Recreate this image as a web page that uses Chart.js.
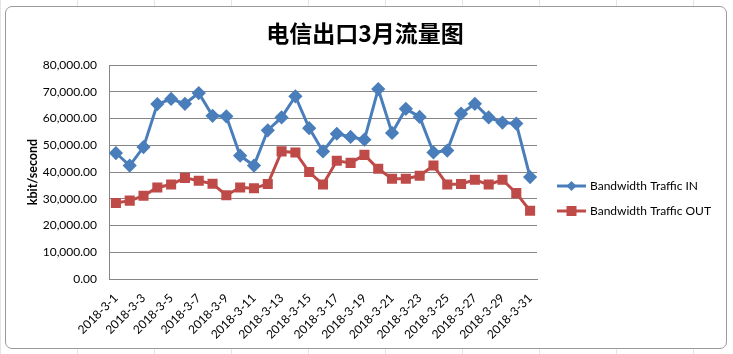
<!DOCTYPE html>
<html>
<head>
<meta charset="utf-8">
<script src="https://cdn.jsdelivr.net/npm/chart.js@4"></script>
<style>
  html, body { margin: 0; padding: 0; background: #fff; }
  body { width: 733px; height: 354px; position: relative; overflow: hidden; }
  .sheet { position: absolute; left: 0; top: 0; width: 733px; height: 354px;
    background-image: linear-gradient(to right, #dfe6ee 1px, transparent 1px);
    background-size: 77px 354px; }
  .frame { position: absolute; left: 5px; top: 6px; width: 720px; height: 341px;
    border: 1px solid #9a9a9a; border-radius: 7px; background: #fff; }
  canvas { position: absolute; left: 0; top: 0; }
</style>
</head>
<body>
<div class="sheet"></div>
<div class="frame"></div>
<canvas id="chart" width="733" height="354"></canvas>
<script>
"use strict";
const dates = [];
for (let d = 1; d <= 31; d++) dates.push("2018-3-" + d);
const trafficIn = [47100, 42400, 49300, 65400, 67300, 65500, 69500, 61000, 60800, 46100,
  42400, 55600, 60400, 68300, 56400, 47700, 54300, 53100, 52100, 71000,
  54600, 63600, 60600, 47300, 48000, 61800, 65500, 60400, 58500, 58100, 38100];
const trafficOut = [28400, 29300, 31100, 34200, 35300, 37800, 36700, 35600, 31300, 34200,
  33900, 35500, 47700, 47300, 40000, 35300, 44200, 43400, 46400, 41200,
  37500, 37500, 38600, 42400, 35300, 35500, 37100, 35300, 37100, 32100, 25500];
const seriesNames = ["Bandwidth Traffic IN", "Bandwidth Traffic OUT"];
const chartTitle = "电信出口3月流量图";
const yMax = 80000;
const yStep = 10000;

const FONT = "Lato, 'Liberation Sans', sans-serif";
const BLUE = "#4a7ebb";
const RED = "#be4b48";

function formatNum(v) {
  return Number(v).toLocaleString("en-US", { minimumFractionDigits: 2, maximumFractionDigits: 2 });
}

// title centred on the whole chart, legend beside the plot (line + marker like excel)
const excelDecor = {
  id: "excelDecor",
  afterDraw(chart) {
    const ctx = chart.ctx;
    ctx.save();
    ctx.fillStyle = "#000";
    ctx.font = "bold 23px 'Noto Sans CJK SC', sans-serif";
    ctx.textAlign = "center";
    ctx.textBaseline = "middle";
    ctx.fillText(chartTitle, 365, 33);
    ctx.restore();

    const x0 = 557, x1 = 586;
    chart.data.datasets.forEach((ds, i) => {
      const y = 186 + i * 25;
      ctx.save();
      ctx.strokeStyle = ds.borderColor;
      ctx.lineWidth = 3;
      ctx.beginPath();
      ctx.moveTo(x0, y);
      ctx.lineTo(x1, y);
      ctx.stroke();
      ctx.fillStyle = ds.backgroundColor;
      const cx = (x0 + x1) / 2;
      ctx.beginPath();
      if (ds.pointStyle === "rectRot") {
        ctx.moveTo(cx, y - 5); ctx.lineTo(cx + 5, y); ctx.lineTo(cx, y + 5); ctx.lineTo(cx - 5, y);
        ctx.closePath();
      } else {
        ctx.rect(cx - 5, y - 5, 10, 10);
      }
      ctx.fill();
      ctx.fillStyle = "#000";
      ctx.font = "12px " + FONT;
      ctx.textBaseline = "middle";
      ctx.fillText(ds.label, 590, y);
      ctx.restore();
    });
  }
};

new Chart(document.getElementById("chart"), {
  type: "line",
  data: {
    labels: dates,
    datasets: [
      { label: seriesNames[0], data: trafficIn, borderColor: BLUE, backgroundColor: BLUE,
        borderWidth: 3, pointStyle: "rectRot", pointRadius: 5, pointHoverRadius: 5, tension: 0 },
      { label: seriesNames[1], data: trafficOut, borderColor: RED, backgroundColor: RED,
        borderWidth: 3, pointStyle: "rect", pointRadius: 5, pointHoverRadius: 5, tension: 0 },
    ],
  },
  options: {
    responsive: false,
    animation: false,
    layout: { padding: { left: 22, right: 196, top: 65, bottom: 5 } },
    plugins: {
      legend: { display: false },
      tooltip: { enabled: false },
      title: { display: false },
    },
    scales: {
      x: {
        offset: true,
        grid: { display: false, drawTicks: false },
        border: { color: "#868686", width: 1 },
        ticks: {
          autoSkip: false,
          maxRotation: 45,
          minRotation: 45,
          padding: 12,
          color: "#000",
          font: { family: FONT, size: 12 },
          callback: (v, i) => (i % 2 === 0 ? dates[i] : ""),
        },
        afterFit: (s) => { s.height = 70; },
      },
      y: {
        min: 0,
        max: yMax,
        grid: { color: "#868686", lineWidth: 1, drawTicks: false },
        border: { color: "#868686", width: 1 },
        ticks: {
          stepSize: yStep,
          padding: 12,
          color: "#000",
          font: { family: FONT, size: 12 },
          callback: (v) => formatNum(v),
        },
        title: {
          display: true,
          text: "kbit/second",
          color: "#000",
          font: { family: FONT, size: 12.5, weight: "bold" },
          padding: { top: 3, bottom: 0 },
        },
        afterFit: (s) => { s.width = 87; },
      },
    },
  },
  plugins: [excelDecor],
});
</script>
</body>
</html>
